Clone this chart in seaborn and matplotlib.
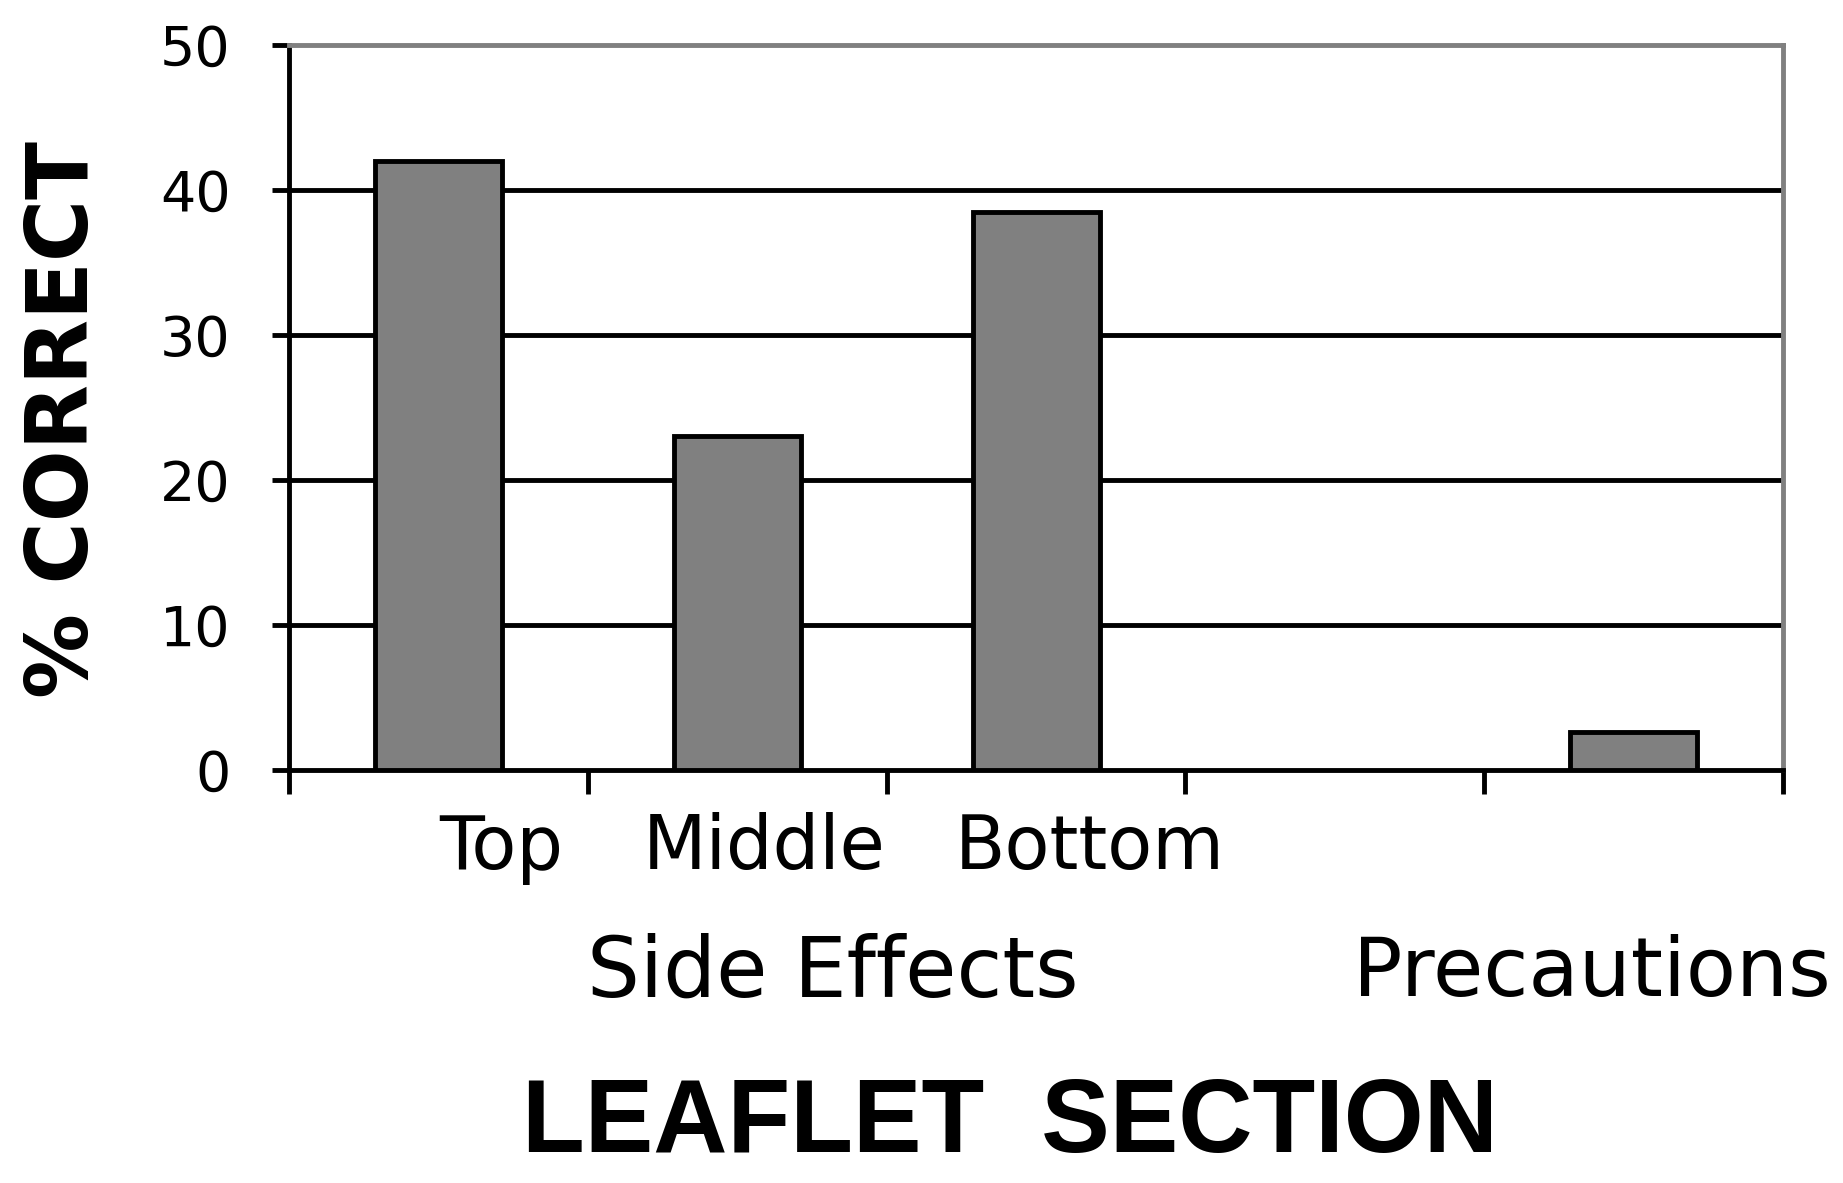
import matplotlib
matplotlib.use("Agg")
import matplotlib.pyplot as plt
import seaborn as sns
import pandas as pd
import numpy as np

# ---- data ----
slots = ["Top", "Middle", "Bottom", " ", "Precautions"]
bar_slots = ["Top", "Middle", "Bottom", "Precautions"]
pct_correct = [42.0, 23.0, 38.5, 2.6]
sub_labels = ["Top", "Middle", "Bottom"]
group_labels = ["Side Effects", "Precautions"]
y_ticks = [0, 10, 20, 30, 40, 50]
y_label = "% CORRECT"
x_title = "LEAFLET  SECTION"

df = pd.DataFrame({"section": bar_slots, "pct": pct_correct})

sns.set_style("white", rc={"text.color": "black", "xtick.color": "black",
                           "ytick.color": "black", "axes.labelcolor": "black",
                           "xtick.bottom": True, "ytick.left": True})
plt.rcParams["font.family"] = ["DejaVu Sans"]

LW = 3.5

fig = plt.figure(figsize=(18.43, 11.83), dpi=100)
ax = fig.add_axes([0.1568, 0.3491, 0.8107, 0.6131])

sns.barplot(data=df, x="section", y="pct", order=slots, color="#808080",
            saturation=1, edgecolor="black", linewidth=LW, width=0.425,
            ax=ax, zorder=3)

ax.set_xlim(-0.5, len(slots) - 0.5)
ax.set_ylim(0, 50)
ax.set_yticks(y_ticks)
ax.set_yticklabels([str(v) for v in y_ticks], fontsize=40, color="black")
ax.tick_params(axis="y", left=True, length=12, width=LW, pad=30, color="black")

# grid lines (hide the one at 50 so the grey top frame shows)
ax.yaxis.grid(True, color="black", linewidth=LW)
ax.set_axisbelow(True)
for gl, v in zip(ax.get_ygridlines(), y_ticks):
    if v in (0, 50):
        gl.set_visible(False)

# x sub labels (shifted right as in the reference)
ax.set_xticks([0.21, 1.09, 2.18])
ax.set_xticklabels(sub_labels, fontsize=53, color="black")
ax.tick_params(axis="x", which="major", bottom=True, length=0, pad=30)
ax.set_xticks(np.arange(-0.5, len(slots), 1.0), minor=True)
ax.tick_params(axis="x", which="minor", bottom=True, length=17, width=LW,
               color="black")
ax.set_xlabel("")
ax.set_ylabel("")

# spines
for s in ["left", "bottom"]:
    ax.spines[s].set_color("black")
    ax.spines[s].set_linewidth(LW)
for s in ["top", "right"]:
    ax.spines[s].set_color("#808080")
    ax.spines[s].set_linewidth(LW)

# group labels
ax.text(1.32, -0.280, group_labels[0], transform=ax.get_xaxis_transform(),
        ha="center", va="center", fontsize=60, color="black", clip_on=False)
ax.text(3.06, -0.280, group_labels[1], transform=ax.get_xaxis_transform(),
        ha="left", va="center", fontsize=59, color="black", clip_on=False)

# y label
fig.text(0.035, 0.645, y_label, rotation=90, ha="center", va="center",
         fontsize=61, fontweight="bold", color="black")

# x title
fig.text(0.548, 0.049, x_title, ha="center", va="center", fontsize=74,
         fontweight="bold", color="black",
         family=["Liberation Sans", "DejaVu Sans"])

fig.savefig("out.png", dpi=100, facecolor="white")
